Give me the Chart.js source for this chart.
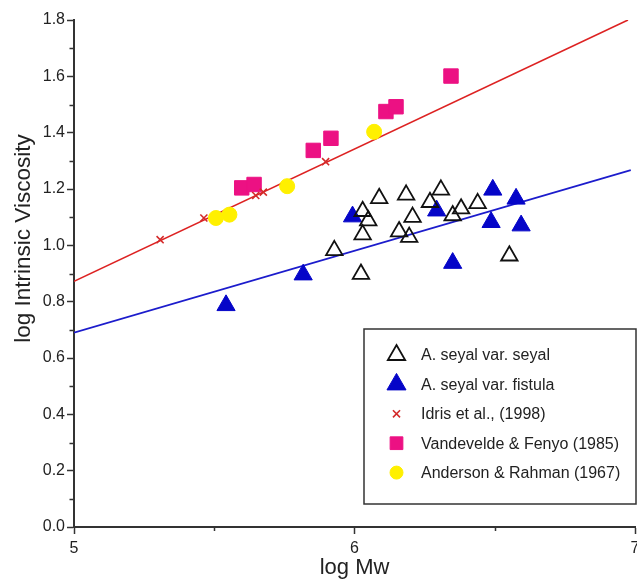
<!DOCTYPE html>
<html>
<head>
<meta charset="utf-8">
<script src="https://cdn.jsdelivr.net/npm/chart.js@4/dist/chart.umd.min.js"></script>
<style>
  html, body { margin: 0; padding: 0; background: #fff; }
  #wrap { position: relative; width: 637px; height: 581px; }
</style>
</head>
<body>
<div id="wrap"><canvas id="c" width="637" height="581"></canvas></div>
<script>
// ---- Data ----
const seyalX = [5.928, 6.023, 6.029, 6.049, 6.029, 6.088, 6.184, 6.207, 6.159, 6.195, 6.308, 6.269, 6.350, 6.380, 6.439, 6.552];
const seyalY = [0.982, 0.898, 1.121, 1.088, 1.038, 1.167, 1.179, 1.100, 1.049, 1.029, 1.197, 1.153, 1.106, 1.130, 1.149, 0.963];

const fistulaX = [5.542, 5.817, 5.993, 6.293, 6.350, 6.487, 6.493, 6.576, 6.594];
const fistulaY = [0.787, 0.896, 1.102, 1.123, 0.937, 1.082, 1.197, 1.165, 1.070];

const idrisX = [5.307, 5.463, 5.648, 5.675, 5.897];
const idrisY = [1.020, 1.097, 1.177, 1.189, 1.297];

const vandeX = [5.598, 5.642, 5.853, 5.916, 6.112, 6.148, 6.344];
const vandeY = [1.204, 1.216, 1.337, 1.380, 1.475, 1.492, 1.601];

const andersonX = [5.506, 5.554, 5.760, 6.070];
const andersonY = [1.097, 1.109, 1.210, 1.403];

// fitted lines (end points)
const redLineX = [5.0, 6.975];
const redLineY = [0.872, 1.800];
const blueLineX = [5.0, 6.985];
const blueLineY = [0.690, 1.267];

const seriesLabels = ["A. seyal var. seyal", "A. seyal var. fistula", "Idris et al., (1998)", "Vandevelde & Fenyo (1985)", "Anderson & Rahman (1967)"];

const xTickValues = [5, 6, 7];
const yTickValues = [0.0, 0.2, 0.4, 0.6, 0.8, 1.0, 1.2, 1.4, 1.6, 1.8];
const xMinorValues = [5.5, 6.5];
const yMinorValues = [0.1, 0.3, 0.5, 0.7, 0.9, 1.1, 1.3, 1.5, 1.7];

const xTitle = "log Mw";
const yTitle = "log Intrinsic Viscosity";

const zip = (xs, ys) => xs.map((x, i) => ({ x: x, y: ys[i] }));

const FONT = '"Liberation Sans", Arial, sans-serif';
const AXIS = '#333333';
const TEXT = '#222222';

const minorTicksPlugin = {
  id: 'minorTicks',
  afterDraw(chart) {
    const ctx = chart.ctx;
    const xs = chart.scales.x, ys = chart.scales.y;
    const ca = chart.chartArea;
    ctx.save();
    ctx.strokeStyle = AXIS;
    ctx.lineWidth = 1.5;
    ctx.beginPath();
    xMinorValues.forEach(v => {
      const px = Math.round(xs.getPixelForValue(v)) + 0.5;
      ctx.moveTo(px, ca.bottom);
      ctx.lineTo(px, ca.bottom + 4);
    });
    yMinorValues.forEach(v => {
      const py = Math.round(ys.getPixelForValue(v)) + 0.5;
      ctx.moveTo(ca.left, py);
      ctx.lineTo(ca.left - 4.5, py);
    });
    ctx.stroke();
    ctx.restore();
  }
};

const yTitlePlugin = {
  id: 'yTitle',
  afterDraw(chart) {
    const ctx = chart.ctx;
    ctx.save();
    ctx.translate(24, 238.5);
    ctx.rotate(-Math.PI / 2);
    ctx.font = '22.5px ' + FONT;
    ctx.fillStyle = TEXT;
    ctx.textAlign = 'center';
    ctx.textBaseline = 'middle';
    ctx.fillText(yTitle, 0, 0);
    ctx.restore();
  }
};

const legendPlugin = {
  id: 'boxLegend',
  afterDraw(chart) {
    const ctx = chart.ctx;
    const ca = chart.chartArea;
    const boxL = 364, boxT = 329, boxR = ca.right + 1, boxB = 504;
    ctx.save();
    ctx.fillStyle = '#ffffff';
    ctx.fillRect(boxL, boxT, boxR - boxL, boxB - boxT);
    ctx.strokeStyle = AXIS;
    ctx.lineWidth = 1.5;
    ctx.strokeRect(boxL, boxT, boxR - boxL, boxB - boxT);
    const items = chart.data.datasets.filter(d => d.inLegend)
      .sort((a, b) => a.legendOrder - b.legendOrder);
    items.forEach((d, i) => {
      const cy = 355 + i * 29.4;
      const cx = 396.5;
      ctx.fillStyle = d.backgroundColor;
      ctx.strokeStyle = d.borderColor;
      ctx.lineWidth = d.borderWidth;
      Chart.helpers.drawPoint(ctx, {
        pointStyle: d.pointStyle,
        radius: d.legendRadius,
        rotation: 0,
        borderWidth: d.borderWidth
      }, cx, cy);
      ctx.fillStyle = TEXT;
      ctx.font = '16px ' + FONT;
      ctx.textAlign = 'left';
      ctx.textBaseline = 'middle';
      ctx.fillText(d.label, 421, cy + 1);
    });
    ctx.restore();
  }
};

new Chart(document.getElementById('c'), {
  type: 'scatter',
  data: {
    datasets: [
      {
        label: seriesLabels[2], inLegend: true, legendOrder: 2, legendRadius: 5,
        data: zip(idrisX, idrisY), pointStyle: 'crossRot', pointRadius: 5,
        backgroundColor: '#d42a2a', borderColor: '#d42a2a', borderWidth: 1.6, order: 0
      },
      {
        label: seriesLabels[0], inLegend: true, legendOrder: 0, legendRadius: 10,
        data: zip(seyalX, seyalY), pointStyle: 'triangle', pointRadius: 9.5,
        backgroundColor: 'rgba(0,0,0,0)', borderColor: '#111111', borderWidth: 1.8, order: 1
      },
      {
        label: seriesLabels[1], inLegend: true, legendOrder: 1, legendRadius: 11,
        data: zip(fistulaX, fistulaY), pointStyle: 'triangle', pointRadius: 10.5,
        backgroundColor: '#0505c8', borderColor: '#0505c8', borderWidth: 1, order: 2
      },
      {
        label: seriesLabels[3], inLegend: true, legendOrder: 3, legendRadius: 9,
        data: zip(vandeX, vandeY), pointStyle: 'rect', pointRadius: 10.2,
        backgroundColor: '#ec1183', borderColor: '#ec1183', borderWidth: 1, order: 3
      },
      {
        label: seriesLabels[4], inLegend: true, legendOrder: 4, legendRadius: 6.5,
        data: zip(andersonX, andersonY), pointStyle: 'circle', pointRadius: 7.5,
        backgroundColor: '#fff000', borderColor: '#fff000', borderWidth: 1, order: 4
      },
      {
        label: 'fit red', inLegend: false,
        data: zip(redLineX, redLineY), showLine: true, pointRadius: 0,
        borderColor: '#dd2222', backgroundColor: '#dd2222', borderWidth: 1.6, order: 10
      },
      {
        label: 'fit blue', inLegend: false,
        data: zip(blueLineX, blueLineY), showLine: true, pointRadius: 0,
        borderColor: '#1c1ccc', backgroundColor: '#1c1ccc', borderWidth: 1.6, order: 11
      }
    ]
  },
  options: {
    responsive: false,
    animation: false,
    events: [],
    layout: { autoPadding: false, padding: { top: 20, right: 2, left: 0, bottom: 0 } },
    plugins: {
      legend: { display: false },
      tooltip: { enabled: false }
    },
    scales: {
      x: {
        type: 'linear', min: 5, max: 7,
        afterBuildTicks: (s) => { s.ticks = xTickValues.map(v => ({ value: v })); },
        afterFit: (s) => { s.height = 54; s.paddingRight = 0; s.paddingLeft = 0; },
        ticks: {
          font: { family: FONT, size: 16 }, color: TEXT, padding: 5,
          callback: (v) => String(v)
        },
        grid: { display: true, drawOnChartArea: false, drawTicks: true, tickLength: 7, tickColor: AXIS, tickWidth: 1.5 },
        border: { display: true, color: AXIS, width: 2 },
        title: {
          display: true, text: xTitle, color: TEXT,
          font: { family: FONT, size: 22 }, padding: { top: 0, bottom: 0 }
        }
      },
      y: {
        type: 'linear', min: 0, max: 1.8,
        afterBuildTicks: (s) => { s.ticks = yTickValues.map(v => ({ value: v })); },
        afterFit: (s) => { s.width = 74; },
        ticks: {
          font: { family: FONT, size: 16 }, color: TEXT, padding: 2,
          callback: (v) => Number(v).toFixed(1)
        },
        grid: { display: true, drawOnChartArea: false, drawTicks: true, tickLength: 7, tickColor: AXIS, tickWidth: 1.5 },
        border: { display: true, color: AXIS, width: 2 }
      }
    }
  },
  plugins: [minorTicksPlugin, yTitlePlugin, legendPlugin]
});
</script>
</body>
</html>
